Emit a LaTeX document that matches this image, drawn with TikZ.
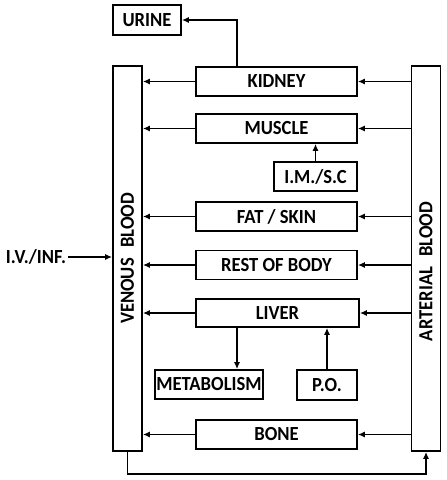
\documentclass[tikz,border=0pt]{standalone}
\usepackage{fontspec}
\setsansfont{Carlito}[FakeStretch=0.93]
\usetikzlibrary{arrows.meta,positioning,calc}
\tikzset{
  organ/.style={draw,line width=1.8pt,inner sep=0pt,minimum width=161pt,minimum height=29pt,
    font=\fontsize{20}{22}\selectfont\sffamily\bfseries},
  pool/.style={organ,minimum width=385pt,rotate=90},
  flow/.style={line width=1.3pt,->}
}

\begin{document}
\begin{tikzpicture}[x=1pt,y=-1pt,>={Latex[length=7pt,width=6pt]}]
  \useasboundingbox (0,0) rectangle (447,480);
  % blood pools
  \node[pool] (venous) at (127.5,258.5) {VENOUS\hspace{0.3em} BLOOD};
  \node[pool] (arterial) at (426,258.5) {};
  \node[organ,draw=none,minimum size=0pt,rotate=90] (arterial-text) at ($(arterial)+(0,13)$) {ARTERIAL\hspace{0.3em} BLOOD};
  % tissues
  \node[organ] (kidney) at (276.5,81.5) {KIDNEY};
  \node[organ] (muscle) at (276.5,128.5) {MUSCLE};
  \node[organ] (fat) at (276.5,216.5) {FAT / SKIN};
  \node[organ] (rest) at (276.5,265) {REST OF BODY};
  \node[organ,minimum width=163pt,minimum height=28pt] (liver) at (277.5,313) {LIVER};
  \node[organ] (bone) at (276.5,434.5) {BONE};
  % inputs and outputs
  \node[organ,minimum width=68pt,minimum height=30pt] (urine) at (147,20) {URINE};
  \node[organ,minimum width=83pt] (ims) at (315.5,176.5) {I.M./S.C};
  \node[organ,minimum width=108pt] (metab) at (209,384.5) {METABOLISM};
  \node[organ,minimum width=60pt,minimum height=30pt] (po) at (327,385) {P.O.};
  \node[font=\fontsize{20}{22}\selectfont\sffamily\bfseries,inner sep=0pt] (iv) at (36,257) {I.V./INF.};
  % arterial -> tissue -> venous
  \draw[flow] (arterial.north |- kidney) -- (kidney.east);
  \draw[flow] (kidney.west) -- (venous.south |- kidney);
  \draw[flow] (arterial.north |- muscle) -- (muscle.east);
  \draw[flow] (muscle.west) -- (venous.south |- muscle);
  \draw[flow] (arterial.north |- fat) -- (fat.east);
  \draw[flow] (fat.west) -- (venous.south |- fat);
  \draw[flow] (arterial.north |- rest) -- (rest.east);
  \draw[flow] (rest.west) -- (venous.south |- rest);
  \draw[flow] (arterial.north |- liver) -- (liver.east);
  \draw[flow] (liver.west) -- (venous.south |- liver);
  \draw[flow] (arterial.north |- bone) -- (bone.east);
  \draw[flow] (bone.west) -- (venous.south |- bone);
  % routes in and out
  \draw[flow] ([xshift=-39.5pt]kidney.north) |- (urine.east);
  \draw[flow] (ims.north) -- (ims.north |- muscle.south);
  \draw[flow] ([xshift=-40.5pt]liver.south) -- ([xshift=-40.5pt]liver.south |- metab.north);
  \draw[flow] (po.north) -- (po.north |- liver.south);
  \draw[flow] ([xshift=1.5pt]iv.east) -- (venous.north |- iv);
  \draw[flow] (venous.west) -- ++(0,22) -| (arterial.west);
\end{tikzpicture}
\end{document}
